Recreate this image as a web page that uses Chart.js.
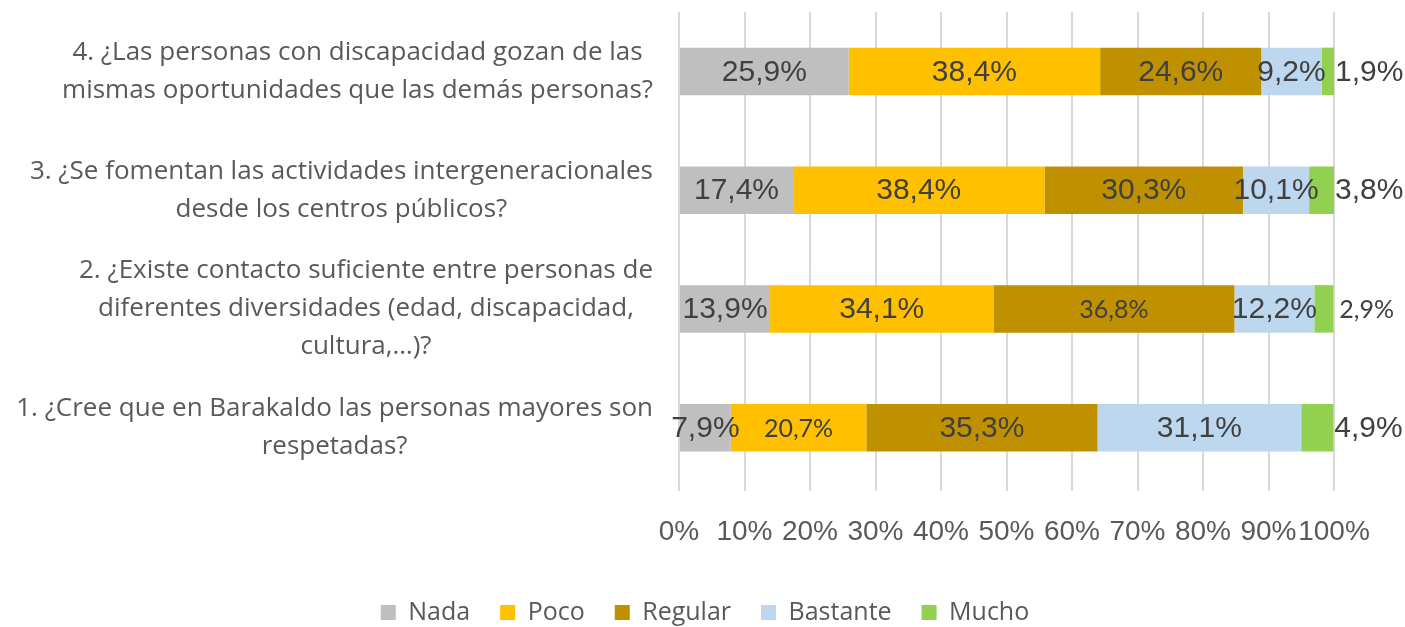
<!DOCTYPE html>
<html>
<head>
<meta charset="utf-8">
<script src="https://cdn.jsdelivr.net/npm/chart.js@4"></script>
<style>
    body { margin: 0; background: #fff; }
    #wrap { width: 1405px; height: 627px; position: relative; }
</style>
</head>
<body>
<div id="wrap"><canvas id="grafico"></canvas></div>
<script>
// preguntas (de arriba a abajo) y porcentajes por respuesta
const preguntas = [
    ['4. ¿Las personas con discapacidad gozan de las', 'mismas oportunidades que las demás personas?'],
    ['3. ¿Se fomentan las actividades intergeneracionales', 'desde los centros públicos?'],
    ['2. ¿Existe contacto suficiente entre personas de', 'diferentes diversidades (edad, discapacidad,', 'cultura,…)?'],
    ['1. ¿Cree que en Barakaldo las personas mayores son', 'respetadas?']
]
const nada     = [25.9, 17.4, 13.9, 7.9]
const poco     = [38.4, 38.4, 34.1, 20.7]
const regular  = [24.6, 30.3, 36.8, 35.3]
const bastante = [9.2, 10.1, 12.2, 31.1]
const mucho    = [1.9, 3.8, 2.9, 4.9]
const ticksX   = [0, 10, 20, 30, 40, 50, 60, 70, 80, 90, 100]

// etiquetas que van en letra más pequeña (serie-pregunta)
const etiquetasPequenas = ['1-3', '2-2', '4-2']

const fmt = v => v.toFixed(1).replace('.', ',') + '%'

// dibuja los valores dentro de cada tramo; "Mucho" va fuera, a la derecha
const etiquetasPlugin = {
    id: 'etiquetas',
    afterDatasetsDraw(chart) {
        const ctx = chart.ctx
        ctx.save()
        ctx.fillStyle = '#404040'
        ctx.textBaseline = 'middle'
        chart.data.datasets.forEach((ds, i) => {
            const meta = chart.getDatasetMeta(i)
            meta.data.forEach((bar, j) => {
                const pequena = etiquetasPequenas.includes(i + '-' + j)
                ctx.font = pequena ? '25px Lato' : '30px "Liberation Sans"'
                const texto = fmt(ds.data[j])
                if (i === 4) {
                    ctx.textAlign = 'left'
                    ctx.fillText(texto, Math.max(bar.x, bar.base) + (pequena ? 6 : 1), bar.y + 1)
                } else {
                    ctx.textAlign = 'center'
                    ctx.fillText(texto, (bar.x + bar.base) / 2, bar.y + 1)
                }
            })
        })
        ctx.restore()
    }
}

// textos de las preguntas: cada bloque pegado a la derecha y sus líneas centradas entre sí
const preguntasPlugin = {
    id: 'preguntas',
    afterDraw(chart) {
        const ctx = chart.ctx
        const escalaY = chart.scales.y
        const derecha = escalaY.right - 26
        const alto = 38
        ctx.save()
        ctx.font = '26px "Open Sans"'
        ctx.fillStyle = '#595959'
        ctx.textAlign = 'center'
        ctx.textBaseline = 'middle'
        preguntas.forEach((lineas, i) => {
            const y = escalaY.getPixelForTick(i)
            const ancho = Math.max(...lineas.map(l => ctx.measureText(l).width))
            const x = derecha - ancho / 2
            lineas.forEach((l, k) => {
                ctx.fillText(l, x, y + (k - (lineas.length - 1) / 2) * alto)
            })
        })
        ctx.restore()
    }
}

// la leyenda va centrada en todo el ancho, no solo hasta el margen derecho
const leyendaCentrada = {
    id: 'leyendaCentrada',
    afterLayout(chart) {
        const dx = 38
        chart.legend.left += dx
        chart.legend.right += dx
    }
}

const colores = ['#BFBFBF', '#FFC000', '#BF9000', '#BDD7EE', '#92D050']
const series = [
    ['Nada', nada], ['Poco', poco], ['Regular', regular], ['Bastante', bastante], ['Mucho', mucho]
]

new Chart(document.getElementById('grafico'), {
    type: 'bar',
    data: {
        labels: preguntas,
        datasets: series.map(([nombre, datos], i) => ({
            label: nombre,
            data: datos,
            backgroundColor: colores[i],
            borderWidth: 0,
            categoryPercentage: 1,
            barPercentage: 0.4
        }))
    },
    options: {
        indexAxis: 'y',
        responsive: true,
        maintainAspectRatio: false,
        animation: false,
        layout: { padding: { top: 12, right: 71, left: 0, bottom: 0 } },
        plugins: {
            tooltip: { enabled: false },
            legend: {
                position: 'bottom',
                maxHeight: 57,
                labels: {
                    boxWidth: 15,
                    boxHeight: 15,
                    padding: 30,
                    color: '#595959',
                    font: { family: 'Open Sans', size: 25 }
                }
            }
        },
        scales: {
            x: {
                stacked: true,
                min: 0,
                max: 100,
                afterBuildTicks: s => { s.ticks = ticksX.map(v => ({ value: v })) },
                afterFit: s => {
                    s.height = 83
                    s.paddingLeft = 0
                    s.paddingRight = 0
                },
                border: { display: false },
                grid: { color: '#D9D9D9', lineWidth: 2, tickLength: 4, tickColor: '#D9D9D9' },
                ticks: {
                    autoSkip: false,
                    maxRotation: 0,
                    minRotation: 0,
                    padding: 24,
                    color: '#595959',
                    font: { family: 'Liberation Sans', size: 28 },
                    callback: v => v + '%'
                }
            },
            y: {
                stacked: true,
                afterFit: s => {
                    s.width = 679
                    s.paddingTop = 0
                    s.paddingBottom = 0
                },
                border: { display: false },
                grid: { display: false, drawTicks: false },
                ticks: { display: false }
            }
        }
    },
    plugins: [etiquetasPlugin, preguntasPlugin, leyendaCentrada]
})
</script>
</body>
</html>
